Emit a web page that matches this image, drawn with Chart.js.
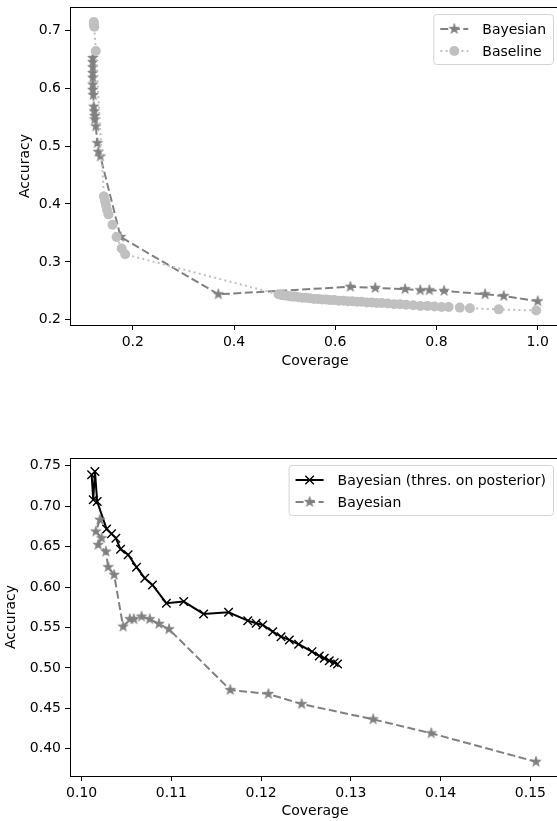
<!DOCTYPE html>
<html>
<head>
<meta charset="utf-8">
<script src="https://cdn.jsdelivr.net/npm/chart.js@4.4.0/dist/chart.umd.min.js"></script>
<style>
  html, body { margin: 0; padding: 0; background: #fff; overflow: hidden; }
  #page { position: relative; width: 557px; height: 821px; overflow: hidden; }
  #topChart { position: absolute; left: 0; top: 0; }
  #bottomChart { position: absolute; left: 0; top: 410px; }
</style>
</head>
<body>
<div id="page">
  <canvas id="topChart" width="561" height="372"></canvas>
  <canvas id="bottomChart" width="561" height="411"></canvas>
</div>
<script>
// top panel
const bayesCov = [0.121, 0.121, 0.121, 0.121, 0.121, 0.121, 0.121, 0.122, 0.123, 0.124, 0.125, 0.125, 0.127, 0.130, 0.132, 0.136,
  0.176, 0.369, 0.630, 0.679, 0.738, 0.768, 0.786, 0.815, 0.896, 0.933, 1.000];
const bayesAcc = [0.652, 0.645, 0.636, 0.626, 0.618, 0.606, 0.597, 0.588, 0.568, 0.560, 0.552, 0.546, 0.534, 0.505, 0.490, 0.482,
  0.343, 0.244, 0.257, 0.255, 0.253, 0.251, 0.251, 0.250, 0.244, 0.241, 0.232];

const baseCov = [0.123, 0.123, 0.124, 0.127, 0.143, 0.145, 0.147, 0.149, 0.152, 0.160, 0.168, 0.178, 0.185,
  0.488, 0.494, 0.500, 0.507, 0.514, 0.521, 0.528, 0.535, 0.542, 0.550, 0.558, 0.566, 0.574, 0.582, 0.590, 0.598,
  0.607, 0.616, 0.625, 0.634, 0.643, 0.652, 0.662, 0.672, 0.682, 0.692, 0.704, 0.716, 0.728, 0.740, 0.754, 0.768,
  0.782, 0.796, 0.810, 0.824, 0.846, 0.866, 0.923, 0.997];
const baseAcc = [0.714, 0.710, 0.706, 0.664, 0.413, 0.405, 0.398, 0.390, 0.382, 0.364, 0.343, 0.323, 0.313,
  0.244, 0.243, 0.242, 0.241, 0.240, 0.240, 0.239, 0.238, 0.238, 0.237, 0.236, 0.236, 0.235, 0.235, 0.234, 0.234,
  0.233, 0.233, 0.232, 0.232, 0.231, 0.231, 0.230, 0.230, 0.229, 0.229, 0.228, 0.227, 0.227, 0.226, 0.225, 0.224,
  0.224, 0.223, 0.222, 0.222, 0.221, 0.220, 0.218, 0.216];

// bottom panel
const postCov = [0.10111, 0.10129, 0.10148, 0.10173, 0.10278, 0.10333, 0.10381, 0.10433, 0.10518, 0.10611, 0.10703,
  0.10789, 0.10944, 0.11137, 0.11359, 0.11637, 0.11851, 0.11944, 0.12018, 0.12129, 0.12222, 0.12314, 0.12418,
  0.12567, 0.12648, 0.12703, 0.12759, 0.12814, 0.12851];
const postAcc = [0.7389, 0.7079, 0.7429, 0.7058, 0.6717, 0.6658, 0.6605, 0.6469, 0.6399, 0.6246, 0.6110,
  0.6027, 0.5801, 0.5821, 0.5668, 0.5689, 0.5585, 0.5553, 0.5532, 0.5449, 0.5387, 0.5347, 0.5293,
  0.5202, 0.5149, 0.5120, 0.5090, 0.5066, 0.5050];

const bayes2Cov = [0.10203, 0.10159, 0.10222, 0.10184, 0.10270, 0.10296, 0.10362, 0.10462, 0.10537, 0.10581,
  0.10667, 0.10759, 0.10862, 0.10973, 0.11656, 0.12081, 0.12451, 0.13248, 0.13896, 0.15062];
const bayes2Acc = [0.6832, 0.6687, 0.6605, 0.6522, 0.6439, 0.6246, 0.6151, 0.5511, 0.5603, 0.5603,
  0.5635, 0.5603, 0.5545, 0.5479, 0.4728, 0.4678, 0.4554, 0.4365, 0.4192, 0.3840];

// tick labels
const topXTicks = [0.2, 0.4, 0.6, 0.8, 1.0];
const topYTicks = [0.2, 0.3, 0.4, 0.5, 0.6, 0.7];
const botXTicks = [0.10, 0.11, 0.12, 0.13, 0.14, 0.15];
const botYTicks = [0.40, 0.45, 0.50, 0.55, 0.60, 0.65, 0.70, 0.75];

Chart.defaults.font.family = "'DejaVu Sans'";
Chart.defaults.font.size = 14;
Chart.defaults.color = '#000';

const pts = (xs, ys) => xs.map((x, i) => ({ x: x, y: ys[i] }));

function starImage(color) {
  const c = document.createElement('canvas');
  c.width = 14; c.height = 14;
  const g = c.getContext('2d');
  g.beginPath();
  for (let i = 0; i < 10; i++) {
    const r = i % 2 === 0 ? 5.4 : 2.1;
    const a = -Math.PI / 2 + i * Math.PI / 5;
    const px = 7 + r * Math.cos(a), py = 7 + r * Math.sin(a);
    if (i === 0) g.moveTo(px, py); else g.lineTo(px, py);
  }
  g.closePath();
  g.fillStyle = color;
  g.fill();
  g.strokeStyle = color;
  g.lineWidth = 0.8;
  g.stroke();
  return c;
}
const grayStar = starImage('#808080');

function axis(ticks, min, max, digits, title, isX, boxSize, titlePad) {
  return {
    type: 'linear',
    min: min,
    max: max,
    afterBuildTicks: s => { s.ticks = ticks.map(v => ({ value: v })); },
    afterFit: s => {
      if (isX) s.height = boxSize; else s.width = boxSize;
      s.paddingTop = s.paddingBottom = s.paddingLeft = s.paddingRight = 0;
    },
    ticks: { callback: v => v.toFixed(digits), padding: 4, maxRotation: 0, autoSkip: false },
    grid: { drawOnChartArea: false, drawTicks: true, tickLength: 5, tickColor: '#000', tickWidth: 1 },
    border: { display: true, color: '#000', width: 1 },
    title: { display: true, text: title, padding: titlePad }
  };
}

// top and right spines
const frame = {
  id: 'frame',
  afterDraw(chart) {
    const { ctx, chartArea: a } = chart;
    ctx.save();
    ctx.strokeStyle = '#000';
    ctx.lineWidth = 1;
    ctx.beginPath();
    ctx.moveTo(a.left, a.top + 0.5);
    ctx.lineTo(a.right, a.top + 0.5);
    ctx.lineTo(a.right, a.bottom);
    ctx.stroke();
    ctx.restore();
  }
};

// matplotlib-like legend box in the upper right corner
const boxLegend = {
  id: 'boxLegend',
  afterDraw(chart) {
    const { ctx, chartArea: a } = chart;
    const items = chart.data.datasets;
    ctx.save();
    ctx.font = "14px 'DejaVu Sans'";
    const textW = Math.max(...items.map(d => ctx.measureText(d.label).width));
    const w = 49 + textW + 7;
    const h = 50;
    const x0 = a.right - 7 - w;
    const y0 = a.top + 7;
    ctx.beginPath();
    ctx.roundRect(x0 + 0.5, y0 + 0.5, w, h, 3);
    ctx.fillStyle = 'rgba(255,255,255,0.8)';
    ctx.fill();
    ctx.strokeStyle = '#d4d4d4';
    ctx.lineWidth = 1;
    ctx.stroke();
    items.forEach((d, i) => {
      const cy = y0 + 15 + 22 * i;
      ctx.strokeStyle = d.borderColor;
      ctx.lineWidth = d.borderWidth;
      ctx.setLineDash(d.borderDash || []);
      ctx.beginPath();
      ctx.moveTo(x0 + 7, cy);
      ctx.lineTo(x0 + 35, cy);
      ctx.stroke();
      ctx.setLineDash([]);
      ctx.fillStyle = d.pointBackgroundColor;
      ctx.strokeStyle = d.pointBorderColor;
      ctx.lineWidth = d.pointBorderWidth;
      Chart.helpers.drawPoint(ctx, { pointStyle: d.pointStyle, radius: d.pointRadius, rotation: 0, borderWidth: d.pointBorderWidth }, x0 + 21, cy);
      ctx.fillStyle = '#000';
      ctx.textBaseline = 'middle';
      ctx.textAlign = 'left';
      ctx.fillText(d.label, x0 + 49, cy + 1);
    });
    ctx.restore();
  }
};

new Chart(document.getElementById('topChart'), {
  type: 'scatter',
  data: {
    datasets: [
      {
        label: 'Bayesian',
        data: pts(bayesCov, bayesAcc),
        showLine: true,
        borderColor: '#808080',
        borderWidth: 2,
        borderDash: [8, 3.5],
        pointStyle: grayStar,
        pointRadius: 5,
        pointBackgroundColor: '#808080',
        pointBorderColor: '#808080',
        pointBorderWidth: 0,
        order: 1
      },
      {
        label: 'Baseline',
        data: pts(baseCov, baseAcc),
        showLine: true,
        borderColor: '#c0c0c0',
        borderWidth: 2,
        borderDash: [2, 3.3],
        pointStyle: 'circle',
        pointRadius: 5,
        pointBackgroundColor: '#c0c0c0',
        pointBorderColor: '#c0c0c0',
        pointBorderWidth: 0,
        order: 0
      }
    ]
  },
  options: {
    responsive: false,
    animation: false,
    events: [],
    layout: { autoPadding: false, padding: { top: 7, right: 1, left: 0, bottom: 0 } },
    plugins: { legend: { display: false }, tooltip: { enabled: false } },
    scales: {
      x: axis(topXTicks, 0.076, 1.044, 1, 'Coverage', true, 47, { top: 0, bottom: 2 }),
      y: axis(topYTicks, 0.191, 0.740, 1, 'Accuracy', false, 70, { top: 17, bottom: 0 })
    }
  },
  plugins: [frame, boxLegend]
});

new Chart(document.getElementById('bottomChart'), {
  type: 'scatter',
  data: {
    datasets: [
      {
        label: 'Bayesian (thres. on posterior)',
        data: pts(postCov, postAcc),
        showLine: true,
        borderColor: '#000',
        borderWidth: 2,
        pointStyle: 'crossRot',
        pointRadius: 6,
        pointBackgroundColor: '#000',
        pointBorderColor: '#000',
        pointBorderWidth: 1.4,
        order: 1
      },
      {
        label: 'Bayesian',
        data: pts(bayes2Cov, bayes2Acc),
        showLine: true,
        borderColor: '#808080',
        borderWidth: 2,
        borderDash: [8, 3.5],
        pointStyle: grayStar,
        pointRadius: 5,
        pointBackgroundColor: '#808080',
        pointBorderColor: '#808080',
        pointBorderWidth: 0,
        order: 0
      }
    ]
  },
  options: {
    responsive: false,
    animation: false,
    events: [],
    layout: { autoPadding: false, padding: { top: 48, right: 1, left: 0, bottom: 0 } },
    plugins: { legend: { display: false }, tooltip: { enabled: false } },
    scales: {
      x: axis(botXTicks, 0.0987, 0.1533, 2, 'Coverage', true, 45, { top: 0, bottom: 1 }),
      y: axis(botYTicks, 0.3664, 0.7596, 2, 'Accuracy', false, 70, { top: 3, bottom: 0 })
    }
  },
  plugins: [frame, boxLegend]
});
</script>
</body>
</html>
